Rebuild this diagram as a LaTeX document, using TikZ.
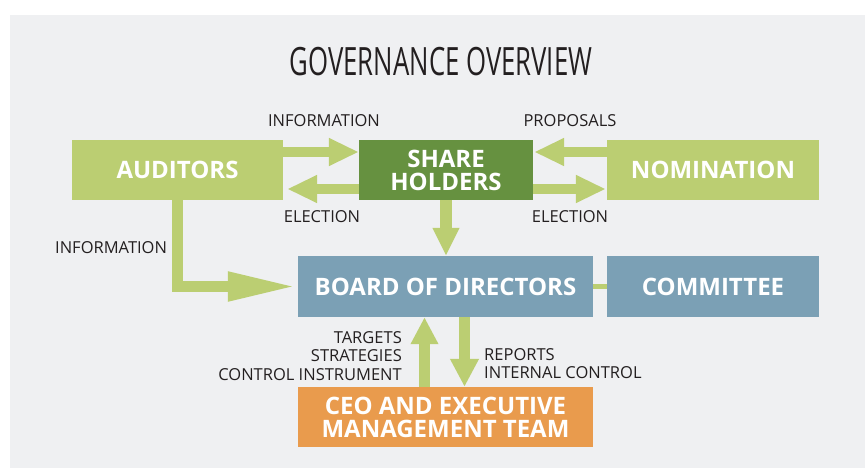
\documentclass[tikz,border=0pt]{standalone}
\usepackage{fontspec}
\setmainfont{Open Sans}
\newfontfamily\titlefont[FakeStretch=0.66]{Open Sans}
\usetikzlibrary{positioning}
\usetikzlibrary{arrows.meta}

\definecolor{bggrey}{HTML}{EFF0F2}
\definecolor{lgreen}{HTML}{BBCE72}
\definecolor{dgreen}{HTML}{669140}
\definecolor{steel}{HTML}{7BA0B5}
\definecolor{ceoorange}{HTML}{E99B4D}
\definecolor{labeltext}{HTML}{231F20}

\tikzset{
    box/.style={minimum height=60pt, inner sep=0pt, text=white, align=center,
        font=\bfseries\fontsize{24}{24}\selectfont},
    lbl/.style={text=labeltext, inner sep=0pt, font=\fontsize{16.5}{18.5}\selectfont},
    fat/.style={draw=lgreen, line width=10pt, line join=miter,
        -{Triangle[length=30pt,width=26pt]}},
}

\begin{document}
\begin{tikzpicture}[x=1pt,y=-1pt]
    \useasboundingbox (0,0) rectangle (866,468);

    % Background
    \fill[bggrey] (10,15) rectangle (865,468);
    \node[text=labeltext, inner sep=0pt, font=\titlefont\fontsize{39}{39}\selectfont] (title) at (441,62) {GOVERNANCE OVERVIEW};

    % Boxes
    \node[box, fill=lgreen, minimum width=211pt] (aud) at (177.5,170) {AUDITORS};
    \node[box, fill=dgreen, minimum width=174pt] (sh) at (446,170) {SHARE\\[-1pt]HOLDERS};
    \node[box, fill=lgreen, minimum width=212pt] (nom) at (713,170) {NOMINATION};
    \node[box, fill=steel, minimum width=295pt, minimum height=61pt] (bod) at (445.5,286.5) {BOARD OF DIRECTORS};
    \node[box, fill=steel, minimum width=212pt, minimum height=61pt] (com) at (713,286.5) {COMMITTEE};
    \node[box, fill=ceoorange, minimum width=295pt] (ceo) at (445.5,417) {CEO AND EXECUTIVE\\[-1pt]MANAGEMENT TEAM};

    % Arrows
    \draw[fat] ([yshift=18pt]aud.east) -- ([yshift=18pt]sh.west);
    \draw[fat] ([yshift=-19pt]sh.west) -- ([xshift=4pt,yshift=-19pt]aud.east);
    \draw[fat] ([yshift=18pt]nom.west) -- ([xshift=1pt,yshift=18pt]sh.east);
    \draw[fat] ([yshift=-19pt]sh.east) -- ([xshift=-1pt,yshift=-19pt]nom.west);
    \draw[fat, line width=12pt, -{Triangle[length=28pt,width=25pt]}] (sh.south) -- (sh.south |- bod.north);
    \draw[fat, line width=11pt, -{Triangle[length=69pt,width=27pt]}] (aud.south) -- (aud.south |- bod.west) -- ([xshift=-1pt]bod.west);
    \draw[fat, line width=11pt, -{Triangle[length=27pt,width=26pt]}] ([xshift=-21pt]ceo.north) -- ([xshift=-21pt]bod.south);
    \draw[fat, line width=11pt, -{Triangle[length=28pt,width=27pt]}] ([xshift=19pt]bod.south) -- ([xshift=19pt]ceo.north);
    \draw[lgreen, line width=5pt] (bod.east) -- (com.west);

    % Labels
    \node[lbl] (info1) at (324,121) {INFORMATION};
    \node[lbl] (prop) at (570,121) {PROPOSALS};
    \node[lbl] (elec1) at (322,216.5) {ELECTION};
    \node[lbl] (elec2) at (570,216.5) {ELECTION};
    \node[lbl, anchor=west] (info2) at (55,247.5) {INFORMATION};
    \node[lbl, anchor=north east, align=right] (targ) at (402,331) {TARGETS\\STRATEGIES\\CONTROL INSTRUMENT};
    \node[lbl, anchor=north west, align=left] (rep) at (484,348) {REPORTS\\INTERNAL CONTROL};

\end{tikzpicture}
\end{document}
